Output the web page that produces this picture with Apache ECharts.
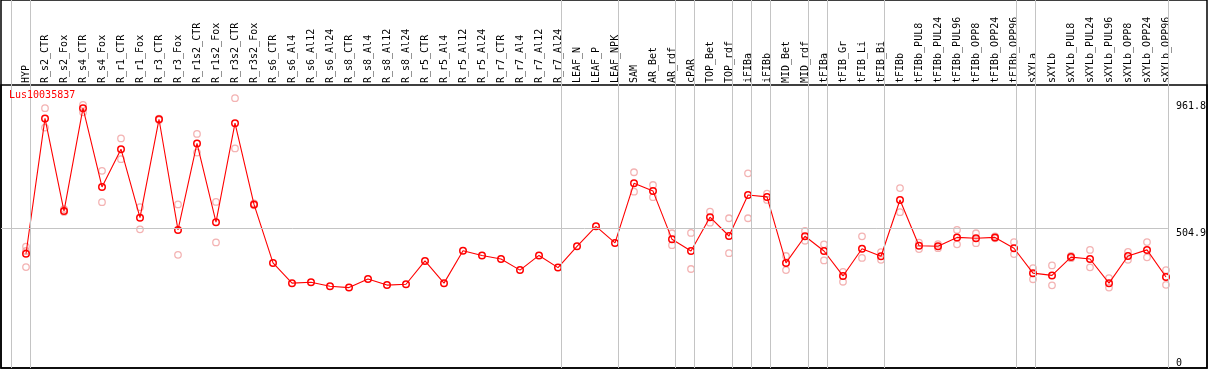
<!DOCTYPE html>
<html><head><meta charset="utf-8">
<script src="https://cdn.jsdelivr.net/npm/echarts@6/dist/echarts.min.js"></script>
<style>html,body{margin:0;padding:0;background:#fff}#c{width:1209px;height:370px}</style>
</head><body><div id="c"></div>
<script>
const geneName = 'Lus10035837';
const categories = ['HYP','R_s2_CTR','R_s2_Fox','R_s4_CTR','R_s4_Fox','R_r1_CTR','R_r1_Fox','R_r3_CTR','R_r3_Fox','R_r1s2_CTR','R_r1s2_Fox','R_r3s2_CTR','R_r3s2_Fox','R_s6_CTR','R_s6_Al4','R_s6_Al12','R_s6_Al24','R_s8_CTR','R_s8_Al4','R_s8_Al12','R_s8_Al24','R_r5_CTR','R_r5_Al4','R_r5_Al12','R_r5_Al24','R_r7_CTR','R_r7_Al4','R_r7_Al12','R_r7_Al24','LEAF_N','LEAF_P','LEAF_NPK','SAM','AR_Bet','AR_rdf','cPAR','TOP_Bet','TOP_rdf','iFIBa','iFIBb','MID_Bet','MID_rdf','tFIBa','tFIB_Gr','tFIB_Li','tFIB_Bi','tFIBb','tFIBb_PUL8','tFIBb_PUL24','tFIBb_PUL96','tFIBb_OPP8','tFIBb_OPP24','tFIBb_OPP96','sXYLa','sXYLb','sXYLb_PUL8','sXYLb_PUL24','sXYLb_PUL96','sXYLb_OPP8','sXYLb_OPP24','sXYLb_OPP96'];
const means = [412,900,566,937,653,789,542,897,498,810,526,883,590,379,306,309,295,290,321,299,302,386,306,423,406,393,353,406,362,439,511,451,666,638,464,422,544,476,624,617,379,475,422,332,430,403,606,441,439,471,468,471,432,342,334,400,393,306,404,426,328];
const rep1 = [438,937,573,949,711,828,580,899,590,844,599,973,594,null,null,null,null,null,null,null,null,null,null,null,null,null,null,null,null,null,null,null,706,660,486,487,564,540,702,629,404,494,446,347,475,418,649,452,447,498,486,475,454,360,370,404,426,324,419,454,353];
const rep2 = [364,867,563,922,598,753,500,894,408,777,453,792,587,null,null,null,null,null,null,null,null,null,null,null,null,null,null,null,null,null,null,null,636,616,443,357,524,414,540,606,353,459,388,311,397,390,562,429,432,446,450,468,411,320,298,396,363,290,390,399,300];
const rep3 = [422,null,null,null,null,null,null,null,null,null,null,null,null,null,null,null,null,null,null,null,null,null,null,null,null,null,null,null,null,null,null,null,null,null,null,null,null,null,null,null,null,null,null,null,null,null,null,null,null,null,null,null,null,null,null,null,null,null,null,null,null];
const groupEnds = ['HYP','R_r7_Al24','LEAF_NPK','AR_rdf','cPAR','TOP_rdf','iFIBa','iFIBb','MID_rdf','tFIBa','tFIB_Bi','tFIBb_OPP96','sXYLa','sXYLb_OPP96'];
const gridValue = 504.9;
const yTickLabels = [0, 504.9, 961.8];

// layout (pixels)
const W = 1209, H = 370, plotLeft = 1, plotRight = 1170, firstX = 26, step = 19;
const headerBottom = 85, plotBottom = 368, gridLineY = 228, sepOffset = 0.24;
const font = 'DejaVu Sans Mono';
const k = (plotBottom - gridLineY) / gridValue;
const xMin = (plotLeft - firstX) / step, xMax = (plotRight - firstX) / step;
const yFullMax = plotBottom / k, yPlotMax = (plotBottom - headerBottom) / k;
const n = categories.length;

// separator positions in category units: one before the first category and one after each group end
const seps = [-1 + sepOffset].concat(groupEnds.map(g => Math.min(categories.indexOf(g) + sepOffset, xMax - 0.001)));
const pale = [];
[rep1, rep2, rep3].forEach(r => r.forEach((v, i) => { if (v != null) pale.push([i, v]); }));

const hiddenX = i => ({type:'value', gridIndex:i, show:false, min:0, max:1});
const hiddenY = i => ({type:'value', gridIndex:i, show:false, min:0, max:1});

const chart = echarts.init(document.getElementById('c'), null, {renderer:'canvas'});
chart.setOption({
  animation:false,
  backgroundColor:'#fff',
  title:{text:geneName, left:9, top:90, padding:0, textStyle:{color:'#ff0000', fontSize:10, fontWeight:'normal', fontFamily:font}},
  grid:[
    {left:plotLeft, right:2, top:0, bottom:H-plotBottom, show:true, borderColor:'#000', borderWidth:1.5, backgroundColor:'transparent'},
    {left:plotLeft, right:2, top:headerBottom, bottom:H-plotBottom, show:true, borderColor:'#000', borderWidth:1.5, backgroundColor:'transparent'},
    {left:plotLeft, right:W-plotRight, top:0, bottom:H-plotBottom},
    {left:firstX - step/2, right:W-(firstX + step*(n-0.5)), top:headerBottom, bottom:H-plotBottom}
  ],
  xAxis:[
    hiddenX(0), hiddenX(1),
    {type:'value', gridIndex:2, show:false, min:xMin, max:xMax},
    {type:'category', gridIndex:3, position:'top', data:categories, boundaryGap:true,
     axisLine:{show:false}, axisTick:{show:false}, splitLine:{show:false},
     axisLabel:{rotate:90, interval:0, margin:2, fontSize:10, fontFamily:font, color:'#000'}}
  ],
  yAxis:[
    hiddenY(0), hiddenY(1),
    {type:'value', gridIndex:2, position:'right', min:0, max:yFullMax,
     axisLine:{show:false}, axisTick:{show:false}, splitLine:{show:false},
     axisLabel:{customValues:yTickLabels.filter(v => v > 0), verticalAlign:'top', align:'left', margin:8, fontSize:10, fontFamily:font, color:'#000', formatter:v => String(v)}},
    {type:'value', gridIndex:2, position:'right', min:0, max:yFullMax,
     axisLine:{show:false}, axisTick:{show:false}, splitLine:{show:false},
     axisLabel:{customValues:yTickLabels.filter(v => v === 0), verticalAlign:'bottom', align:'left', margin:8, fontSize:10, fontFamily:font, color:'#000', formatter:v => String(v)}},
    {type:'value', gridIndex:3, show:false, min:0, max:yPlotMax}
  ],
  series:[
    {type:'line', xAxisIndex:2, yAxisIndex:2, data:[], silent:true,
     markLine:{silent:true, symbol:['none','none'], label:{show:false},
       lineStyle:{color:'#c4c4c4', type:'solid', width:1},
       data: seps.map(v => [{coord:[v, 0]}, {coord:[v, yFullMax]}])
         .concat([[{coord:[xMin, gridValue]}, {coord:[xMax, gridValue]}]])}},
    {type:'scatter', xAxisIndex:3, yAxisIndex:4, data:pale, symbol:'circle', symbolSize:6.5,
     itemStyle:{color:'rgba(0,0,0,0)', borderColor:'#f0a0a0', borderWidth:1.3}, z:3},
    {type:'line', xAxisIndex:3, yAxisIndex:4, data:means, symbol:'circle', symbolSize:6.5,
     lineStyle:{color:'#ff0000', width:1.1},
     itemStyle:{color:'rgba(0,0,0,0)', borderColor:'#ff0000', borderWidth:1.5}, z:4}
  ]
});
</script></body></html>
